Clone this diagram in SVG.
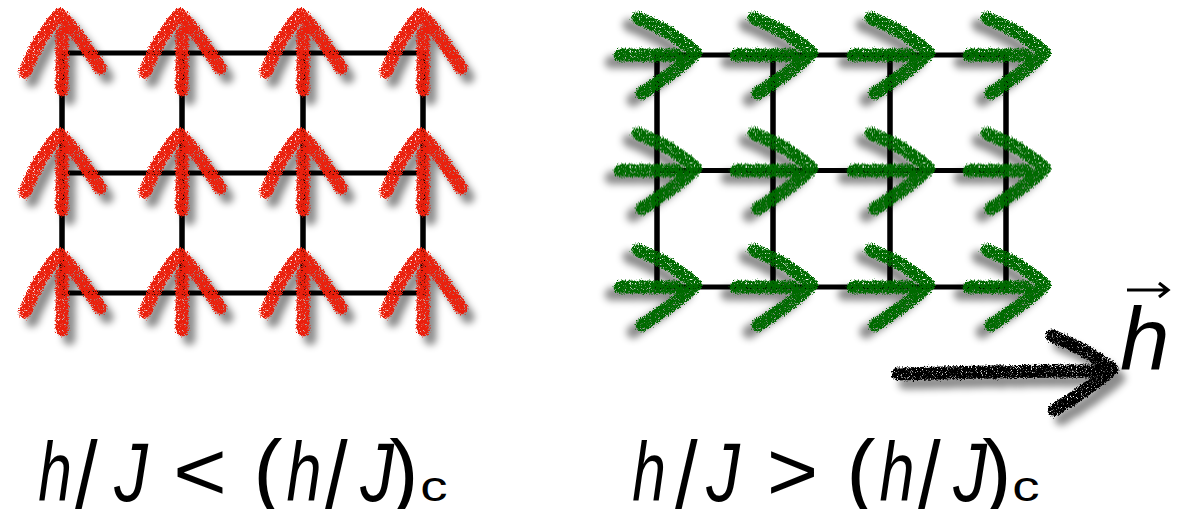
<svg xmlns="http://www.w3.org/2000/svg" xmlns:xlink="http://www.w3.org/1999/xlink" width="1190" height="509" viewBox="0 0 1190 509">
  <style>
    .grid { stroke: #000; fill: none; stroke-linecap: square; }
    .red { stroke: #ea200d; }
    .green { stroke: #006a00; }
    .blk { stroke: #000; }
    .chalk { fill: none; stroke-width: 13; stroke-linecap: round; stroke-linejoin: round; filter: url(#chalk); }
    .m { font-family: "Liberation Sans", Arial, sans-serif; font-size: 84px; fill: #000; text-anchor: middle; }
    .it { font-style: italic; }
    .sl { font-size: 98px; }
    .par { font-size: 88px; }
    .sub { font-size: 42px; }
    .hv { font-family: "Liberation Sans", Arial, sans-serif; font-style: italic; font-size: 89px; fill: #000; }
  </style>
  <defs>
    <filter id="chalk" x="-50%" y="-50%" width="200%" height="200%" color-interpolation-filters="sRGB">
      <feTurbulence type="fractalNoise" baseFrequency="0.7" numOctaves="2" seed="4" result="n1"/>
      <feDisplacementMap in="SourceGraphic" in2="n1" scale="6" xChannelSelector="R" yChannelSelector="G" result="rough"/>
      <feTurbulence type="fractalNoise" baseFrequency="1.2" numOctaves="1" seed="9" result="n2"/>
      <feColorMatrix in="n2" type="matrix" values="0 0 0 0 0  0 0 0 0 0  0 0 0 0 0  -7 0 0 0 5.1" result="mask"/>
      <feComposite in="rough" in2="mask" operator="in" result="ch"/>
      <feGaussianBlur in="rough" stdDeviation="3.5"/>
      <feOffset dx="7" dy="9" result="sh"/>
      <feFlood flood-color="#000" flood-opacity="0.45"/>
      <feComposite in2="sh" operator="in" result="shadow"/>
      <feMerge><feMergeNode in="shadow"/><feMergeNode in="ch"/></feMerge>
    </filter>
    <g id="spin">
      <path d="M0,-20 L0,37"/>
      <path d="M-37,19 Q-23,-17 -2,-39 Q18,-17 38,15"/>
    </g>
  </defs>
  <rect width="1190" height="509" fill="#fff"/>

  <g id="connectors">
    <path class="grid" stroke-width="5" d="M62,53 H423 M62,173 H423 M62,293 H423"/>
    <path class="grid" stroke-width="5.5" d="M62,53 V293 M182,53 V293 M303,53 V293 M423,53 V293"/>
    <path class="grid" stroke-width="5" d="M657,55 H1006 M657,170.5 H1006 M657,287 H1006"/>
    <path class="grid" stroke-width="5.5" d="M657,55 V287 M773,55 V287 M890,55 V287 M1006,55 V287"/>
  </g>

  <g id="spins-left">
    <g id="s-l-1-1"><use href="#spin" class="chalk red" transform="translate(62,53)"/></g>
    <g id="s-l-1-2"><use href="#spin" class="chalk red" transform="translate(182,53)"/></g>
    <g id="s-l-1-3"><use href="#spin" class="chalk red" transform="translate(303,53)"/></g>
    <g id="s-l-1-4"><use href="#spin" class="chalk red" transform="translate(423,53)"/></g>
    <g id="s-l-2-1"><use href="#spin" class="chalk red" transform="translate(62,173)"/></g>
    <g id="s-l-2-2"><use href="#spin" class="chalk red" transform="translate(182,173)"/></g>
    <g id="s-l-2-3"><use href="#spin" class="chalk red" transform="translate(303,173)"/></g>
    <g id="s-l-2-4"><use href="#spin" class="chalk red" transform="translate(423,173)"/></g>
    <g id="s-l-3-1"><use href="#spin" class="chalk red" transform="translate(62,293)"/></g>
    <g id="s-l-3-2"><use href="#spin" class="chalk red" transform="translate(182,293)"/></g>
    <g id="s-l-3-3"><use href="#spin" class="chalk red" transform="translate(303,293)"/></g>
    <g id="s-l-3-4"><use href="#spin" class="chalk red" transform="translate(423,293)"/></g>
  </g>

  <g id="spins-right">
    <g id="s-r-1-1"><use href="#spin" class="chalk green" transform="translate(657,55) rotate(90)"/></g>
    <g id="s-r-1-2"><use href="#spin" class="chalk green" transform="translate(773,55) rotate(90)"/></g>
    <g id="s-r-1-3"><use href="#spin" class="chalk green" transform="translate(890,55) rotate(90)"/></g>
    <g id="s-r-1-4"><use href="#spin" class="chalk green" transform="translate(1006,55) rotate(90)"/></g>
    <g id="s-r-2-1"><use href="#spin" class="chalk green" transform="translate(657,170.5) rotate(90)"/></g>
    <g id="s-r-2-2"><use href="#spin" class="chalk green" transform="translate(773,170.5) rotate(90)"/></g>
    <g id="s-r-2-3"><use href="#spin" class="chalk green" transform="translate(890,170.5) rotate(90)"/></g>
    <g id="s-r-2-4"><use href="#spin" class="chalk green" transform="translate(1006,170.5) rotate(90)"/></g>
    <g id="s-r-3-1"><use href="#spin" class="chalk green" transform="translate(657,287) rotate(90)"/></g>
    <g id="s-r-3-2"><use href="#spin" class="chalk green" transform="translate(773,287) rotate(90)"/></g>
    <g id="s-r-3-3"><use href="#spin" class="chalk green" transform="translate(890,287) rotate(90)"/></g>
    <g id="s-r-3-4"><use href="#spin" class="chalk green" transform="translate(1006,287) rotate(90)"/></g>
  </g>

  <g id="field">
    <g class="chalk blk">
      <path d="M898,374 Q1000,371 1098,371"/>
      <path d="M1052,336 Q1085,348 1112,369 Q1085,392 1054,410"/>
    </g>
    <text class="hv" x="1120" y="370">h</text>
    <path d="M1127,290 H1167 M1159,283 L1168,290 L1159,297" fill="none" stroke="#000" stroke-width="3.2" stroke-linejoin="miter"/>
  </g>

  <g id="label-left">
    <text class="m it" transform="translate(55,501) scale(0.72,1)">h</text>
    <text class="m sl" transform="translate(86,510) scale(0.85,1)">/</text>
    <text class="m it" transform="translate(131,501) scale(0.8,1)">J</text>
    <text class="m" transform="translate(200,500) scale(1.1,1)">&lt;</text>
    <text class="m par" transform="translate(268,501)">(</text>
    <text class="m it" transform="translate(304,501) scale(0.75,1)">h</text>
    <text class="m sl" transform="translate(336,510) scale(0.85,1)">/</text>
    <text class="m it" transform="translate(377,501) scale(0.8,1)">J</text>
    <text class="m par" transform="translate(404,501)">)</text>
    <text class="m sub" transform="translate(434,501) scale(1.3,1)">c</text>
  </g>

  <g id="label-right">
    <text class="m it" transform="translate(649,501) scale(0.72,1)">h</text>
    <text class="m sl" transform="translate(686,510) scale(0.85,1)">/</text>
    <text class="m it" transform="translate(723,501) scale(0.8,1)">J</text>
    <text class="m" transform="translate(792.5,500) scale(1.05,1)">&gt;</text>
    <text class="m par" transform="translate(861,501)">(</text>
    <text class="m it" transform="translate(897,501) scale(0.75,1)">h</text>
    <text class="m sl" transform="translate(929,510) scale(0.85,1)">/</text>
    <text class="m it" transform="translate(970,501) scale(0.8,1)">J</text>
    <text class="m par" transform="translate(997,501)">)</text>
    <text class="m sub" transform="translate(1026,501) scale(1.3,1)">c</text>
  </g>
</svg>
